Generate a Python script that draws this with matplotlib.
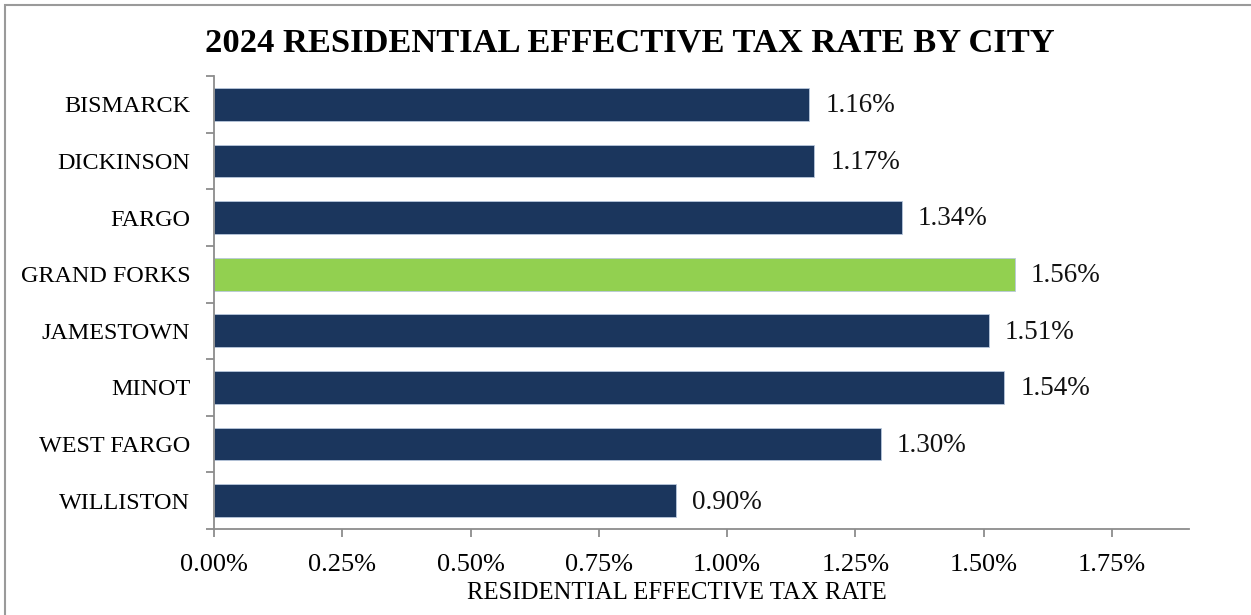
import matplotlib.pyplot as plt
from matplotlib.patches import Rectangle

cities = ['BISMARCK', 'DICKINSON', 'FARGO', 'GRAND FORKS', 'JAMESTOWN',
          'MINOT', 'WEST FARGO', 'WILLISTON']
rates = [1.16, 1.17, 1.34, 1.56, 1.51, 1.54, 1.30, 0.90]
highlight = 'GRAND FORKS'
xticks = [0, 0.25, 0.5, 0.75, 1.0, 1.25, 1.5, 1.75]

navy = '#1B365D'
green = '#92D050'
axis_gray = '#8C8C8C'

plt.rcParams['font.family'] = ['Liberation Serif']

W, H = 1251, 615
fig = plt.figure(figsize=(W / 100, H / 100), dpi=100)
ax = fig.add_axes([214 / W, 1 - 529 / H, (1189 - 214) / W, (529 - 76) / H])

colors = [green if c == highlight else navy for c in cities]
ypos = range(len(cities))
ax.barh(ypos, rates, height=0.58, color=colors, edgecolor='#B8C7DC', linewidth=0.6)
ax.set_ylim(len(cities) - 0.5, -0.5)
ax.set_xlim(0, 1.9)

for y, v in zip(ypos, rates):
    ax.annotate(f'{v:.2f}%', (v, y), xytext=(11.5, -1), textcoords='offset points',
                ha='left', va='center', fontsize=19.5, color='#111111')

ax.set_yticks(ypos)
ax.set_yticklabels(cities, fontsize=17.4)
ax.set_yticks([i - 0.5 for i in range(len(cities) + 1)], minor=True)
ax.tick_params(axis='y', which='major', length=0, pad=17)
ax.tick_params(axis='y', which='minor', length=6, color=axis_gray, width=1.3)
ax.set_xticks(xticks)
ax.set_xticklabels([f'{t:.2f}%' for t in xticks], fontsize=19)
ax.tick_params(axis='x', length=6, color=axis_gray, width=1.3, pad=12)

for s in ['top', 'right']:
    ax.spines[s].set_visible(False)
for s in ['left', 'bottom']:
    ax.spines[s].set_color(axis_gray)
    ax.spines[s].set_linewidth(1.3)

fig.text(630 / W, 1 - 43 / H, '2024 RESIDENTIAL EFFECTIVE TAX RATE BY CITY',
         ha='center', va='center', fontsize=24.8, fontweight='bold')
fig.text(677 / W, 1 - 593 / H, 'RESIDENTIAL EFFECTIVE TAX RATE',
         ha='center', va='center', fontsize=17.8)

fig.patches.append(Rectangle((5 / W, -0.1), 1.2, 1 - 5 / H + 0.1,
                             transform=fig.transFigure, fill=False,
                             edgecolor='#9A9A9A', linewidth=1.5))

fig.savefig('out.png', dpi=100)
